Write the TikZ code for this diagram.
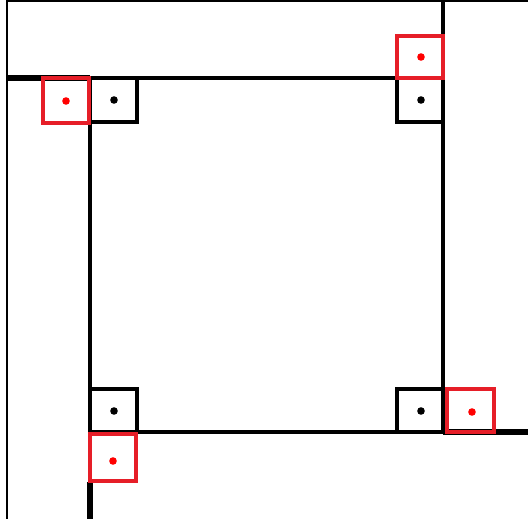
\documentclass[tikz,border=0pt]{standalone}
\definecolor{boxred}{RGB}{230,30,40}
\begin{document}
\begin{tikzpicture}[x=1pt,y=-1pt,
  wall/.style={line width=3.3pt,black},
  thickwall/.style={line width=5.5pt,black},
  thinwall/.style={line width=2.2pt,black},
  blackbox/.style={line width=3.3pt,black},
  redbox/.style={line width=4pt,boxred},
  bdot/.style={fill=black},
  rdot/.style={fill=red}]
\useasboundingbox (0,0) rectangle (528,519);
% outer lines
\draw[thinwall] (7,519) -- (7,1) -- (528,1);
% top wall
\draw[thickwall] (7,78) -- (90,78);
\draw[wall] (90,78) -- (443,78);
% right wall
\draw[wall] (443,0) -- (443,432);
% bottom wall
\draw[wall] (90,432) -- (443,432);
\draw[thickwall] (443,432) -- (528,432);
% left wall
\draw[wall] (90,78) -- (90,482);
\draw[thickwall] (90,482) -- (90,519);
% black corner boxes
\draw[blackbox] (90,78) rectangle (137,122);
\draw[blackbox] (397,78) rectangle (443,122);
\draw[blackbox] (90,389) rectangle (137,432);
\draw[blackbox] (397,389) rectangle (443,432);
\fill[bdot] (114,100) circle (3.8pt);
\fill[bdot] (421,100) circle (3.8pt);
\fill[bdot] (114,411) circle (3.8pt);
\fill[bdot] (421,411) circle (3.8pt);
% red boxes
\draw[redbox] (43,78) rectangle (89,123);
\draw[redbox] (397,36) rectangle (443,78);
\draw[redbox] (90,434) rectangle (136,481);
\draw[redbox] (447,389) rectangle (494,432);
\fill[rdot] (66,101) circle (3.8pt);
\fill[rdot] (421,57) circle (3.8pt);
\fill[rdot] (113,461) circle (3.8pt);
\fill[rdot] (472,412) circle (3.8pt);
\end{tikzpicture}
\end{document}
